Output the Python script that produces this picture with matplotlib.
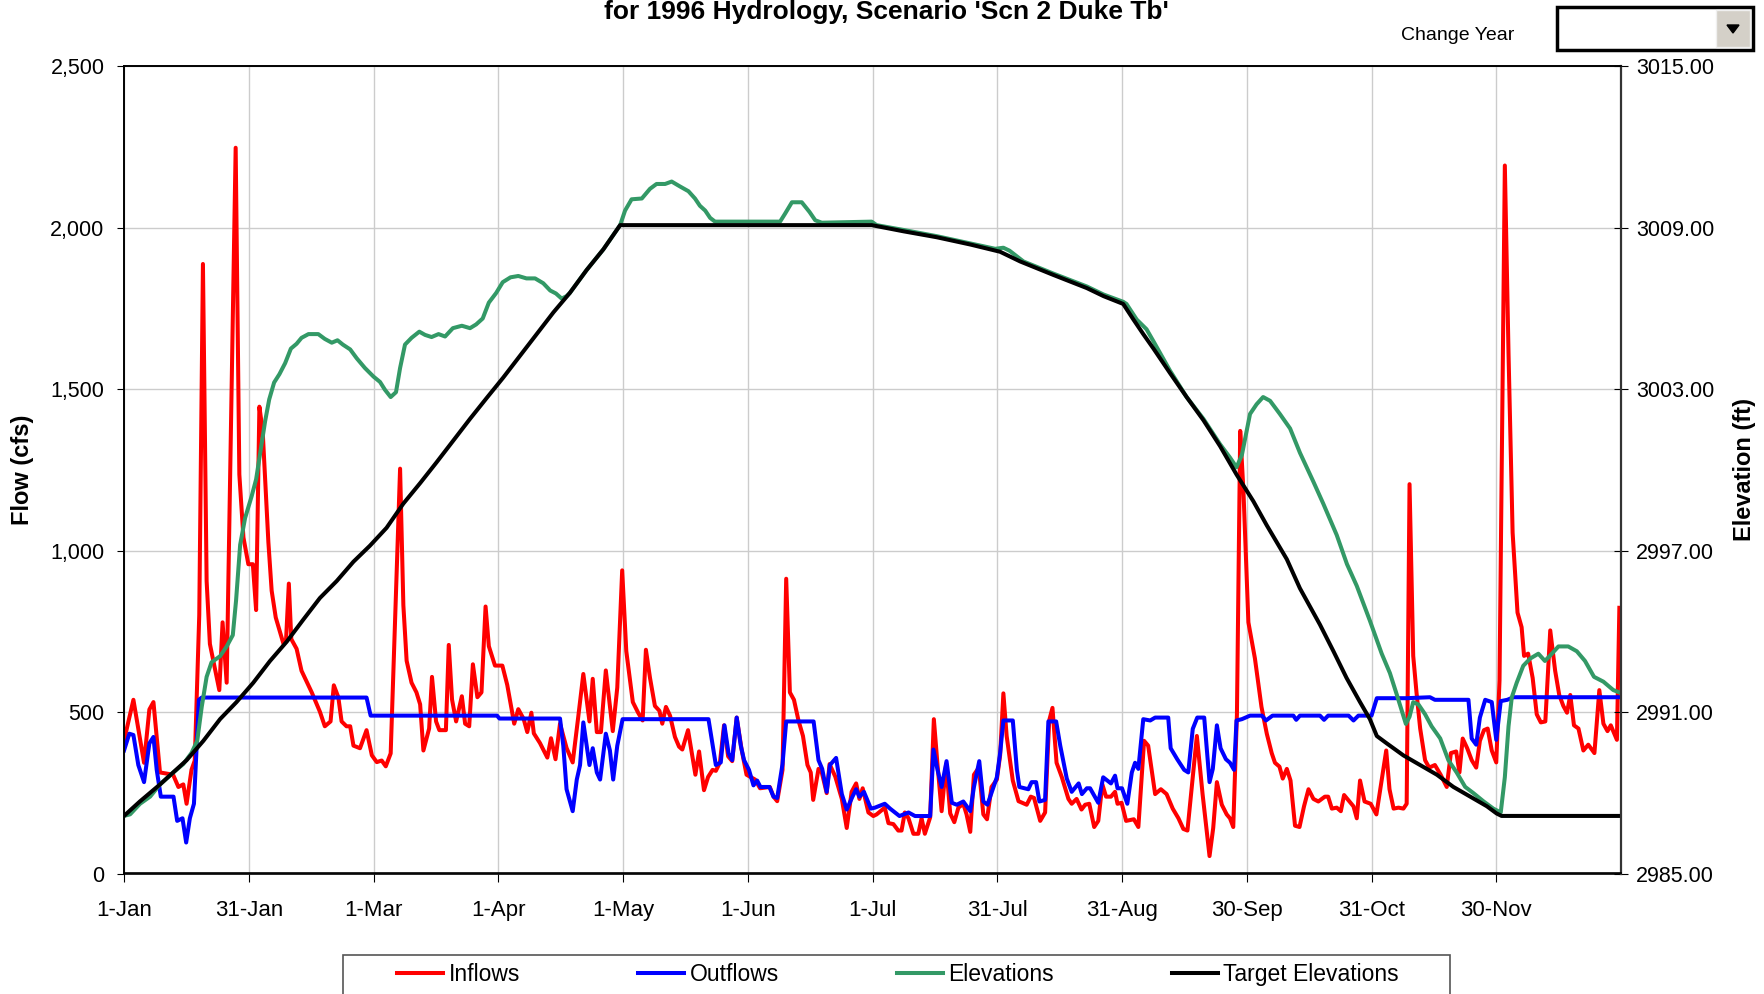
import matplotlib
matplotlib.use("Agg")
import matplotlib.pyplot as plt
from matplotlib.patches import Rectangle, Polygon
from matplotlib.ticker import FixedLocator, FuncFormatter

plt.rcParams['font.family'] = ['Liberation Sans', 'DejaVu Sans']

# ---- data (day of year 1996, value) ----
month_labels = ['1-Jan', '31-Jan', '1-Mar', '1-Apr', '1-May', '1-Jun',
                '1-Jul', '31-Jul', '31-Aug', '30-Sep', '31-Oct', '30-Nov']

inflow_day = [0, 2.3, 4.9, 6.2, 7.2, 8.8, 12, 13.3, 14.5, 15.3, 16.5, 17.3, 18.4, 19.3, 20.2, 21, 23.3, 24.1,
              25.1, 27.3, 28.2, 29.2, 30.4, 31.5, 32.3, 33.1, 33.9, 35.3, 36.1, 37.1, 39, 39.6, 40.3, 40.9,
              42.2, 43.4, 45.9, 47.9, 49.1, 50.5, 51.3, 52.4, 53.2, 54.4, 55.3, 56.1, 57.7, 59.3, 60.6, 61.8,
              63, 64, 65.2, 67.5, 68.3, 69.1, 70.3, 71.5, 72.4, 73.2, 74.6, 75.3, 76.3, 77.1, 78.7, 79.4,
              80.2, 81.2, 82.6, 83.4, 84.4, 85.3, 86.4, 87.4, 88.4, 89.2, 90.7, 92.5, 93.7, 95.4, 96.4, 97.7,
              98.6, 99.6, 100.2, 101.7, 103.5, 104.4, 105.5, 106.6, 108.2, 109.7, 111, 112.3, 113.8, 114.6,
              115.6, 116.6, 117.8, 119.5, 120.6, 121.8, 122.8, 124.4, 125.7, 126.8, 127.6, 128.6, 129.8,
              130.9, 131.6, 132.5, 133.5, 134.7, 135.7, 136.5, 137.9, 138.8, 139.7, 140.6, 141.8, 142.8,
              143.9, 144.7, 145.7, 146.7, 147.7, 148.7, 149.8, 151, 152.2, 153.2, 154.3, 155.5, 157.9, 158.8,
              159.7, 161, 161.9, 162.8, 163.8, 164.9, 166, 167.1, 167.9, 168.5, 169.8, 170.6, 171.8, 172.5,
              173.9, 175.5, 176.7, 177.9, 179, 179.8, 180.6, 182, 183.2, 184, 186, 186.9, 188.1, 189.3, 190.1,
              190.9, 191.8, 193, 194.2, 195, 195.8, 197.1, 198, 198.9, 199.9, 201, 202, 203, 204, 205.2, 206,
              206.9, 207.8, 209, 210.1, 211, 212.1, 213.4, 214.2, 215, 215.8, 217.3, 218.7, 220.7, 221.7,
              222.5, 224, 225.2, 226.2, 227, 228, 229.3, 230.9, 231.7, 232.9, 234.1, 235, 236, 237.2, 238.2,
              239.2, 240.1, 241.3, 242.3, 242.9, 243.9, 245, 246.9, 248, 249.4, 250.4, 252.1, 253.5, 254.9,
              256.4, 257.8, 259, 260, 262.3, 263.7, 265.4, 266.3, 267.2, 268.4, 269.6, 270.4, 271.2, 272.1,
              272.9, 273.7, 274.9, 276.5, 278.1, 279.4, 280.6, 281.4, 282.5, 283.3, 284.3, 285.2, 286.3,
              287.4, 288.5, 289.6, 290.8, 292, 293.6, 294.4, 295.3, 296.5, 297.5, 298.3, 299.6, 300.6, 301.4,
              302.2, 303.3, 304.8, 306.2, 307.5, 308.6, 309.4, 310.4, 311.6, 312.8, 313.6, 314.3, 315.2, 316,
              316.9, 318.1, 319.1, 320.5, 321.9, 323.4, 324.4, 325.7, 326.5, 327.3, 328.4, 329.5, 330.6,
              331.5, 332.5, 333.4, 334.4, 335.5, 336.3, 337.6, 338.5, 339.5, 340.7, 341.7, 342.3, 343.3,
              344.4, 345.4, 346.4, 347.5, 348.7, 349.9, 350.9, 351.9, 352.8, 353.6, 354.5, 355.6, 356.8, 358,
              359.5, 360.7, 361.7, 362.7, 363.5, 365, 365.6]
inflow_cfs = [411, 538, 343, 508, 531, 313, 306, 268, 276, 216, 321, 350, 801, 1888, 906, 711, 568, 778,
              591, 2248, 1236, 1041, 958, 958, 816, 1446, 1371, 1026, 876, 793, 711, 718, 898, 726,
              696, 628, 561, 501, 456, 471, 583, 546, 471, 456, 456, 396, 388, 444, 366, 345,
              350, 332, 372, 1254, 831, 659, 591, 561, 524, 381, 449, 609, 471, 444, 444, 708,
              539, 471, 549, 464, 456, 648, 546, 561, 827, 704, 644, 644, 584, 464, 509, 479,
              438, 498, 434, 404, 359, 419, 354, 464, 389, 344, 479, 618, 471, 603,
              438, 438, 629, 441, 576, 939, 689, 531, 498, 474, 693, 606, 519,
              504, 464, 516, 489, 423, 393, 384, 444, 374, 306, 378, 258, 299,
              321, 318, 344, 459, 363, 348, 483, 384, 306, 299, 291, 264, 268, 238,
              224, 321, 913, 561, 538, 474, 426, 336, 313, 228, 324, 313, 249, 339,
              300, 231, 141, 253, 279, 231, 264, 189, 178, 183, 204, 156, 153, 133, 133,
              189, 171, 123, 123, 171, 123, 174, 478, 336, 193, 339, 186, 159, 204, 216, 183,
              129, 306, 328, 183, 168, 268, 291, 366, 558, 426, 288, 224, 213, 238,
              234, 163, 189, 474, 513, 343, 298, 231, 216, 231, 198, 213, 216, 144, 163,
              276, 238, 238, 253, 216, 219, 163, 168, 144, 411, 396, 246, 261, 246,
              201, 171, 138, 133, 426, 246, 54, 141, 283, 213, 183, 171, 144, 493,
              1371, 1183, 778, 666, 516, 433, 373, 343, 331, 294, 324, 288, 148,
              144, 208, 261, 231, 223, 238, 238, 201, 204, 193, 243, 223, 208, 171,
              288, 223, 216, 183, 291, 381, 261, 201, 204, 201, 216, 1206, 674, 561,
              449, 351, 328, 336, 306, 268, 373, 378, 313, 418, 388, 351, 328,
              411, 444, 449, 381, 344, 598, 2193, 1611, 1056, 808, 763, 674, 681,
              606, 493, 468, 471, 753, 628, 553, 519, 498, 553, 459, 449, 381, 399,
              373, 568, 464, 441, 459, 414, 823]

outflow_day = [0, 1.3, 2.3, 3.5, 4.9, 6.2, 7.2, 8, 9, 12.1, 13, 14.3, 15.2, 16.1, 17.1, 18.3, 19, 59.3,
               60.3, 91.2, 91.8, 106.6, 107.4, 108.2, 109.7, 110.7, 111.5, 112.3, 113.8, 114.6, 115.6,
               116.4, 117.8, 118.8, 119.6, 120.6, 121.9, 142.9, 144.7, 145.9, 146.8, 147.8, 148.7, 149.8,
               150.8, 151.6, 152.8, 153.9, 154.8, 155.6, 157.8, 158.8, 159.7, 161, 161.9, 168.6, 169.8,
               170.7, 171.8, 172.6, 174.1, 175.5, 176.7, 178.1, 179, 179.8, 180.9, 182.6, 183.6, 186,
               187.3, 189.6, 191.8, 193.4, 197.1, 197.9, 198.9, 199.9, 201.1, 202.4, 203.6, 205.2, 206.9,
               207.8, 209.1, 210.1, 211.1, 212.4, 213.4, 214.2, 215, 217.3, 218.3, 218.9, 221.1, 221.9,
               223, 223.8, 225.2, 226, 227.9, 228.9, 230.5, 231.7, 233.4, 234.2, 235.4, 236.2, 238.2,
               239.4, 241.3, 242.3, 242.9, 244, 245.3, 246.4, 247.2, 248, 249.2, 250.9, 252.1, 255.3,
               255.9, 257.5, 259.2, 260.2, 261.3, 262.4, 264.1, 265.4, 266.2, 267.2, 268.1, 269.4, 270.4,
               271.4, 272, 273.3, 275.3, 278.2, 279.2, 280.8, 285.9, 286.6, 287.5, 292.4, 293.4, 294.4,
               299.4, 300.6, 301.8, 305, 306.3, 313.6, 319.3, 320.5, 328.7, 329.5, 330.6, 331.5, 332.8,
               334.4, 335.5, 336.6, 338.2, 339.7, 365.6]
outflow_cfs = [381, 433, 429, 336, 283, 403, 423, 321, 238, 238, 163, 171, 96, 171, 216, 538, 545, 545,
               489, 489, 480, 480, 396, 261, 193, 291, 336, 468, 336, 388, 313,
               291, 433, 381, 291, 396, 478, 478, 336, 344, 459, 373, 351, 483,
               396, 351, 321, 273, 288, 268, 268, 238, 234, 339, 471, 471, 351,
               324, 253, 336, 358, 246, 198, 238, 261, 238, 253, 201, 204, 216,
               201, 178, 189, 178, 178, 384, 321, 268, 348, 219, 213, 223, 193,
               268, 348, 223, 213, 261, 298, 373, 474, 474, 321, 268, 261, 283,
               283, 223, 228, 471, 471, 396, 294, 253, 279, 246, 264, 264, 219,
               298, 279, 303, 264, 264, 216, 313, 343, 324, 478, 474, 483, 483,
               388, 354, 321, 313, 448, 483, 483, 283, 324, 459, 388, 354, 343,
               321, 474, 478, 489, 489, 474, 489, 489, 476, 489, 489, 476, 489,
               489, 474, 489, 489, 543, 543, 546, 538, 538, 418, 399, 483, 538,
               531, 414, 534, 538, 546, 546]

elev_day = [0, 1.5, 3.9, 6.4, 8.8, 12.1, 14.5, 16.5, 17.9, 19, 20.2, 21.4, 23.5, 25.1, 26.6, 27.4, 28.4,
            29.6, 31.2, 32.3, 33.3, 34.5, 35.5, 36.7, 38, 39.4, 40.8, 42.2, 43.4, 45.1, 47.5, 49.1, 50.8,
            52.2, 53.5, 55.3, 56.9, 58.9, 61, 62.6, 63.8, 65.2, 66.5, 67.5, 68.7, 70.3, 72.2, 73.6, 75.2,
            76.9, 78.5, 80.4, 82.6, 84.6, 86.1, 87.7, 89.2, 91, 92.6, 94.5, 96.4, 98.4, 100.5, 102.5,
            104.2, 105.6, 107, 108.2, 109, 113.1, 117.2, 121.3, 122.5, 124.1, 126.6, 128.6, 130.2, 132.3,
            133.9, 135.9, 138, 139.6, 140.8, 142.1, 143.3, 144.5, 160.4, 161.6, 163.3, 165.7, 167.6, 169,
            170.6, 182.8, 184, 190.6, 198.7, 206.9, 213, 215, 216.5, 219.9, 227.2, 235.4, 239.5, 244.3,
            245.1, 247.6, 250, 251.7, 255.7, 259.8, 263.9, 268, 270.4, 272, 273.3, 275.3, 276.9, 278.5,
            280.2, 282.6, 285.1, 287.5, 290.8, 293.2, 296.5, 299, 301.4, 304.6, 307.5, 309.5, 311.2,
            313.4, 314.3, 315.2, 316.5, 318.1, 319.7, 321.8, 323.8, 325.8, 327.9, 329.9, 332.4, 334.8,
            336.6, 337.6, 338.5, 339.3, 340.5, 342.1, 343.8, 345.8, 347.4, 349.1, 350.7, 353.1, 355.2,
            357.2, 359.4, 361.7, 364.1, 365.6]
elev_ft = [2987.14, 2987.20, 2987.59, 2987.86, 2988.31, 2988.76, 2989.07, 2989.48, 2989.93, 2991.19,
           2992.31, 2992.85, 2993.08, 2993.44, 2993.86, 2995.15, 2997.22, 2998.21, 2999.02, 2999.65,
           3000.64, 3001.81, 3002.62, 3003.25, 3003.56, 3003.97, 3004.51, 3004.69, 3004.91, 3005.05,
           3005.05, 3004.87, 3004.73, 3004.82, 3004.66, 3004.48, 3004.15, 3003.79, 3003.47, 3003.27,
           3002.98, 3002.71, 3002.89, 3003.79, 3004.66, 3004.91, 3005.14, 3005.02, 3004.94, 3005.05,
           3004.96, 3005.27, 3005.36, 3005.27, 3005.41, 3005.63, 3006.22, 3006.58, 3006.98, 3007.16,
           3007.21, 3007.12, 3007.12, 3006.94, 3006.67, 3006.56, 3006.37, 3006.46, 3006.58, 3007.43,
           3008.20, 3009.10, 3009.64, 3010.06, 3010.09, 3010.45, 3010.63, 3010.63, 3010.72, 3010.54,
           3010.36, 3010.09, 3009.82, 3009.64, 3009.37, 3009.23, 3009.23, 3009.52, 3009.95, 3009.95,
           3009.59, 3009.28, 3009.19, 3009.23, 3009.10, 3008.92, 3008.69, 3008.42, 3008.22, 3008.26,
           3008.15, 3007.75, 3007.30, 3006.82, 3006.52, 3006.25, 3006.17, 3005.59, 3005.23, 3004.78,
           3003.70, 3002.71, 3001.90, 3000.95, 3000.46, 3000.10, 3000.55, 3002.08, 3002.44, 3002.71,
           3002.57, 3002.08, 3001.54, 3000.64, 2999.56, 2998.75, 2997.58, 2996.50, 2995.69, 2994.40,
           2993.17, 2992.45, 2991.64, 2990.56, 2990.83, 2991.37, 2991.28, 2990.92, 2990.47, 2990.02,
           2989.21, 2988.76, 2988.22, 2987.99, 2987.68, 2987.41, 2987.27, 2988.58, 2990.47, 2991.55,
           2992.09, 2992.72, 2992.99, 2993.17, 2992.90, 2993.17, 2993.44, 2993.44, 2993.26, 2992.90,
           2992.31, 2992.13, 2991.82, 2991.73]

target_day = [0, 3.9, 8.8, 15.3, 19.4, 23.5, 27.5, 31.6, 35.7, 39.8, 43.8, 47.9, 52, 56.1, 60.1, 64.2,
              68.3, 72.4, 76.4, 80.5, 84.6, 88.7, 92.7, 96.8, 100.9, 105, 109, 113.1, 117.2, 121.3, 182.8,
              190.6, 198.7, 206.9, 214.2, 219.1, 227.2, 235.4, 239.5, 244.3, 246.8, 249.2, 251.7, 255.7,
              259.8, 263.9, 268, 272, 276.1, 279.4, 284.3, 287.5, 292.4, 295.7, 298.9, 302.2, 304.6,
              306.3, 308.7, 312.8, 316.9, 321, 325, 329.1, 333.2, 335.6, 336.8, 365.6]
target_ft = [2987.14, 2987.68, 2988.31, 2989.21, 2989.93, 2990.74, 2991.37, 2992.09, 2992.90, 2993.62,
             2994.43, 2995.24, 2995.87, 2996.59, 2997.18, 2997.85, 2998.75, 2999.51, 3000.28, 3001.09,
             3001.90, 3002.68, 3003.43, 3004.24, 3005.05, 3005.86, 3006.58, 3007.43, 3008.20, 3009.10,
             3009.10, 3008.87, 3008.65, 3008.38, 3008.11, 3007.75, 3007.25, 3006.76, 3006.46, 3006.17,
             3005.59, 3005.05, 3004.51, 3003.61, 3002.71, 3001.85, 3000.88, 2999.83, 2998.84, 2997.94,
             2996.68, 2995.60, 2994.25, 2993.26, 2992.27, 2991.37, 2990.74, 2990.11, 2989.84, 2989.39,
             2989.03, 2988.67, 2988.22, 2987.86, 2987.50, 2987.23, 2987.14, 2987.14]

W, H = 1765, 994
fig = plt.figure(figsize=(W / 100, H / 100), dpi=100)
ax = fig.add_axes([124 / W, 1 - 873.5 / H, (1621 - 124) / W, (873.5 - 66.4) / H])
ax2 = ax.twinx()

lw = 2.9
ax.plot(inflow_day, inflow_cfs, color='#ff0000', lw=lw, label='Inflows')
ax.plot(outflow_day, outflow_cfs, color='#0000ff', lw=lw, label='Outflows')
ax2.plot(elev_day, elev_ft, color='#339966', lw=lw, label='Elevations')
ax2.plot(target_day, target_ft, color='#000000', lw=lw, label='Target Elevations')

ax.set_xlim(0, 366)
ax.set_ylim(0, 2500)
ax2.set_ylim(2985, 3015)
ax.xaxis.set_major_locator(FixedLocator([i * 30.5 for i in range(12)]))
ax.set_xticklabels(month_labels)
ax.set_yticks(range(0, 2501, 500))
ax.yaxis.set_major_formatter(FuncFormatter(lambda v, p: f'{int(v):,}'))
ax2.set_yticks([2985 + 6 * i for i in range(6)])
ax2.yaxis.set_major_formatter(FuncFormatter(lambda v, p: f'{v:.2f}'))

ax.grid(True, color='#cccccc', lw=1)
ax.set_axisbelow(True)

ax.tick_params(axis='x', direction='out', length=6, pad=13, labelsize=16)
ax.tick_params(axis='y', direction='out', length=5, pad=9, labelsize=15.5)
ax2.tick_params(axis='y', direction='inout', length=10, pad=6, labelsize=15.5)

for a in (ax, ax2):
    for s in a.spines.values():
        s.set_color('black')
        s.set_linewidth(1.2)
ax2.spines['right'].set_linewidth(1.6)
ax2.spines['right'].set_color('#333333')

ax.set_ylabel('Flow (cfs)', fontsize=17, fontweight='bold', labelpad=12)
ax2.set_ylabel('Elevation (ft)', fontsize=17, fontweight='bold', labelpad=13)

fig.text(886 / W, 1 - 19 / H, "for 1996 Hydrology, Scenario 'Scn 2 Duke Tb'",
         ha='center', va='baseline', fontsize=19, fontweight='bold')
fig.text(1401 / W, 1 - 36 / H, 'Change Year', ha='left', va='center', fontsize=14)

# dropdown box
fig.add_artist(Rectangle((1557 / W, 1 - 50 / H), 196 / W, 43 / H, transform=fig.transFigure,
                         facecolor='white', edgecolor='black', lw=2.5))
fig.add_artist(Rectangle((1716 / W, 1 - 47 / H), 34 / W, 37 / H, transform=fig.transFigure,
                         facecolor='#d4d0c8', edgecolor='#f0f0f0', lw=1))
fig.add_artist(Polygon([(1727 / W, 1 - 25 / H), (1739 / W, 1 - 25 / H), (1733 / W, 1 - 33 / H)],
                       closed=True, transform=fig.transFigure, facecolor='black', edgecolor='black'))

# legend box (runs off the bottom of the figure)
fig.add_artist(Rectangle((343 / W, -0.05), (1450 - 343) / W, 0.05 + 1 - 955 / H,
                         transform=fig.transFigure, facecolor='white', edgecolor='#555555', lw=1.2))
handles = ax.get_lines() + ax2.get_lines()
fig.legend(handles, [h.get_label() for h in handles], loc='upper center',
           bbox_to_anchor=(898 / W, 1 - 942 / H), ncol=4, frameon=False, fontsize=16.5,
           handlelength=2.0, handletextpad=0.25, columnspacing=5.15)

fig.savefig('out.png', dpi=100)
